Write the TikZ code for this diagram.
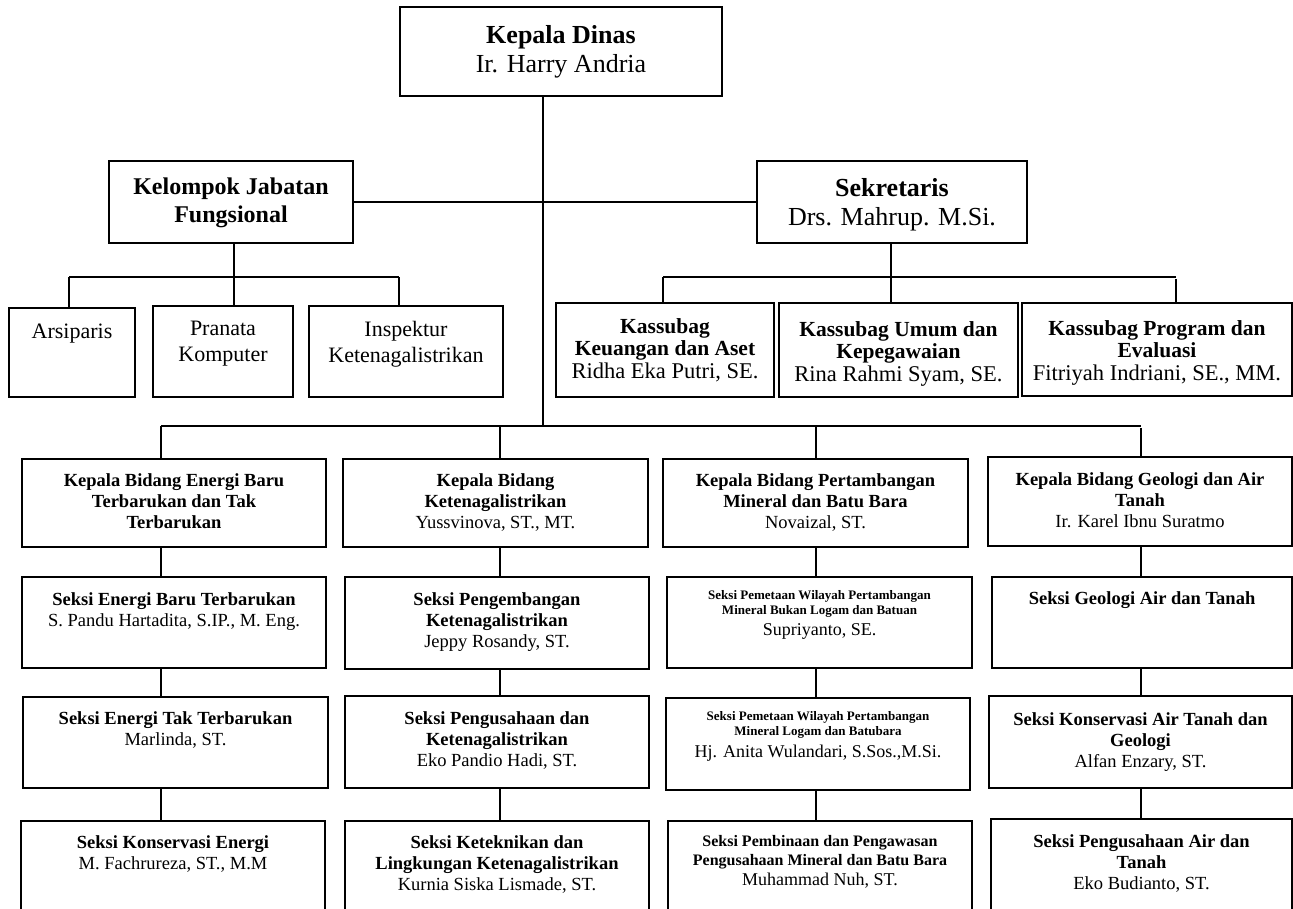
\documentclass[tikz,border=0pt]{standalone}
\usepackage{fontspec}
\setmainfont{Liberation Serif}
\tikzset{
  obox/.style={draw=black, line width=1.3pt, inner sep=0pt, outer sep=0pt},
  txt/.style={inner sep=0pt, outer sep=0pt, align=center, anchor=north, text=black},
  conn/.style={draw=black, line width=1.3pt},
}
% name, x1, y1, x2, y2, first baseline, font size, line skip, content
\newcommand{\ob}[9]{%
  \node[obox, anchor=north west, minimum width={(#4-#2)*1pt}, minimum height={(#5-#3)*1pt}] (#1) at (#2,#3) {};
  \node[txt, font={\fontsize{#7}{#8}\selectfont}] (#1-t) at ({(#2+#4)/2},{#6-0.683*#7}) {#9};
}
\newcommand{\nm}[2]{{\fontsize{#1}{#1}\selectfont #2}}
\begin{document}
\begin{tikzpicture}[x=1pt,y=-1pt]
\useasboundingbox (0,0) rectangle (1293,908);
\clip (0,0) rectangle (1293,908);

% top level
\ob{kd}{400}{7}{722}{96}{43}{26}{29}{\textbf{Kepala Dinas}\\Ir. Harry Andria}
\ob{kjf}{109}{161}{353}{243}{194}{24}{28}{\textbf{Kelompok Jabatan}\\\textbf{Fungsional}}
\ob{sek}{757}{161}{1027}{243}{196}{26}{29}{\textbf{Sekretaris}\\Drs. Mahrup. M.Si.}

% functional group
\ob{arsip}{9}{308}{135}{397}{339}{22}{26}{Arsiparis}
\ob{pran}{153}{306}{293}{397}{336}{22}{26}{Pranata\\Komputer}
\ob{insp}{309}{306}{503}{397}{336}{22}{26}{Inspektur\\Ketenagalistrikan}

% secretariat
\ob{keu}{556}{303}{774}{397}{333}{21.5}{22.5}{\textbf{Kassubag}\\\textbf{Keuangan dan Aset}\\\nm{22.5}{Ridha Eka Putri, SE.}}
\ob{umum}{779}{303}{1018}{397}{336}{21.5}{22.5}{\textbf{Kassubag Umum dan}\\\textbf{Kepegawaian}\\\nm{22.5}{Rina Rahmi Syam, SE.}}
\ob{prog}{1022}{303}{1292}{396}{335}{21.5}{22.5}{\textbf{Kassubag Program dan}\\\textbf{Evaluasi}\\\nm{22.5}{Fitriyah Indriani, SE., MM.}}

% column 1
\ob{b11}{22}{459}{326}{547}{486}{18.5}{21}{\textbf{Kepala Bidang Energi Baru}\\\textbf{Terbarukan dan Tak}\\\textbf{Terbarukan}}
\ob{b12}{22}{577}{326}{668}{605}{18.5}{21}{\textbf{Seksi Energi Baru Terbarukan}\\S. Pandu Hartadita, S.IP., M. Eng.}
\ob{b13}{23}{697}{328}{788}{724}{18.5}{21}{\textbf{Seksi Energi Tak Terbarukan}\\Marlinda, ST.}
\ob{b14}{21}{821}{325}{915}{848}{18.5}{21}{\textbf{Seksi Konservasi Energi}\\M. Fachrureza, ST., M.M}

% column 2
\ob{b21}{343}{459}{648}{547}{486}{18.5}{21}{\textbf{Kepala Bidang}\\\textbf{Ketenagalistrikan}\\Yussvinova, ST., MT.}
\ob{b22}{345}{577}{649}{669}{605}{18.5}{21}{\textbf{Seksi Pengembangan}\\\textbf{Ketenagalistrikan}\\Jeppy Rosandy, ST.}
\ob{b23}{345}{696}{649}{788}{724}{18.5}{21}{\textbf{Seksi Pengusahaan dan}\\\textbf{Ketenagalistrikan}\\Eko Pandio Hadi, ST.}
\ob{b24}{345}{821}{649}{915}{848}{18.5}{21}{\textbf{Seksi Keteknikan dan}\\\textbf{Lingkungan Ketenagalistrikan}\\Kurnia Siska Lismade, ST.}

% column 3
\ob{b31}{663}{459}{968}{547}{486}{18.5}{21}{\textbf{Kepala Bidang Pertambangan}\\\textbf{Mineral dan Batu Bara}\\Novaizal, ST.}
\ob{b32}{667}{577}{972}{668}{599}{13}{15}{\textbf{Seksi Pemetaan Wilayah Pertambangan}\\\textbf{Mineral Bukan Logam dan Batuan}\\[6pt]\nm{18}{Supriyanto, SE.}}
\ob{b33}{666}{698}{970}{790}{720}{13}{15}{\textbf{Seksi Pemetaan Wilayah Pertambangan}\\\textbf{Mineral Logam dan Batubara}\\[6pt]\nm{18}{Hj. Anita Wulandari, S.Sos.,M.Si.}}
\ob{b34}{668}{821}{972}{915}{846}{16}{19.5}{\textbf{Seksi Pembinaan dan Pengawasan}\\\textbf{Pengusahaan Mineral dan Batu Bara}\\\nm{18}{Muhammad Nuh, ST.}}

% column 4
\ob{b41}{988}{457}{1292}{546}{485}{18.5}{21}{\textbf{Kepala Bidang Geologi dan Air}\\\textbf{Tanah}\\Ir. Karel Ibnu Suratmo}
\ob{b42}{992}{577}{1292}{668}{604}{18.5}{21}{\textbf{Seksi Geologi Air dan Tanah}}
\ob{b43}{989}{696}{1292}{788}{725}{18.5}{21}{\textbf{Seksi Konservasi Air Tanah dan}\\\textbf{Geologi}\\Alfan Enzary, ST.}
\ob{b44}{991}{819}{1292}{915}{847}{18.5}{21}{\textbf{Seksi Pengusahaan Air dan}\\\textbf{Tanah}\\Eko Budianto, ST.}

% junction coordinates
\coordinate (mb) at (543,426);
\coordinate (c1) at (161,426);
\coordinate (c2) at (500,426);
\coordinate (c3) at (816,426);
\coordinate (c4) at (1141,426);
\coordinate (kb) at (234,277);
\coordinate (kbl) at (69,277);
\coordinate (kbr) at (399,277);
\coordinate (sb) at (891,277);
\coordinate (sbl) at (663,277);
\coordinate (sbr) at (1176,277);

% connectors: top
\draw[conn] (kd.south -| mb) -- (mb);
\draw[conn] (kjf.east) -- (sek.west);

% functional group
\draw[conn] (kjf.south -| kb) -- (pran.north -| kb);
\draw[conn] (kbl) -- (kbr);
\draw[conn] (kbl) -- (kbl |- arsip.north);
\draw[conn] (kbr) -- (kbr |- insp.north);

% secretariat
\draw[conn] (sek.south -| sb) -- (umum.north -| sb);
\draw[conn] (sbl) -- (sbr);
\draw[conn] (sbl) -- (sbl |- keu.north);
\draw[conn] ([yshift=-2pt]sbr) -- (sbr |- prog.north);

% main bus
\draw[conn] (c1) -- (c4);
\draw[conn] (c1) -- (c1 |- b11.north);
\draw[conn] (c2) -- (c2 |- b21.north);
\draw[conn] (c3) -- (c3 |- b31.north);
\draw[conn] ([yshift=-2pt]c4) -- (c4 |- b41.north);

% column chains
\draw[conn] (b11.south -| c1) -- (b12.north -| c1);
\draw[conn] (b12.south -| c1) -- (b13.north -| c1);
\draw[conn] (b13.south -| c1) -- (b14.north -| c1);
\draw[conn] (b21.south -| c2) -- (b22.north -| c2);
\draw[conn] (b22.south -| c2) -- (b23.north -| c2);
\draw[conn] (b23.south -| c2) -- (b24.north -| c2);
\draw[conn] (b31.south -| c3) -- (b32.north -| c3);
\draw[conn] (b32.south -| c3) -- (b33.north -| c3);
\draw[conn] (b33.south -| c3) -- (b34.north -| c3);
\draw[conn] (b41.south -| c4) -- (b42.north -| c4);
\draw[conn] (b42.south -| c4) -- (b43.north -| c4);
\draw[conn] (b43.south -| c4) -- (b44.north -| c4);
\end{tikzpicture}
\end{document}
